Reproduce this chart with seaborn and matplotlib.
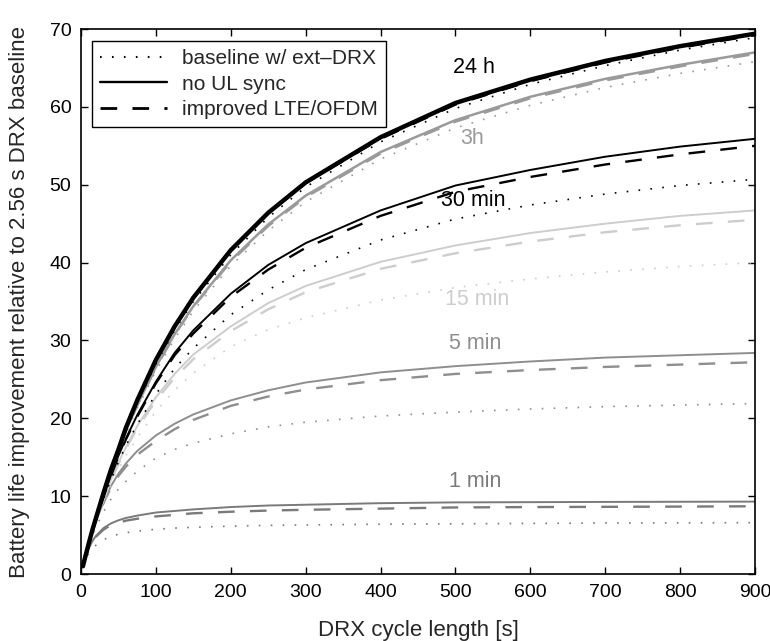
import matplotlib
matplotlib.use("Agg")
import matplotlib.pyplot as plt
import pandas as pd
import seaborn as sns
from matplotlib.lines import Line2D

sns.set_theme(style="ticks")
plt.rcParams["font.family"] = ["Liberation Sans", "DejaVu Sans"]
plt.rcParams["lines.scale_dashes"] = False

# DRX cycle length [s]
drx = [2.56, 5, 10, 15, 20, 30, 40, 50, 60, 75, 100, 125, 150, 200, 250, 300, 400, 500, 600, 700, 800, 900]

# battery life improvement
h24_solid = [1.0, 1.95, 3.8, 5.6, 7.2, 10.4, 13.4, 16.0, 18.8, 22.3, 27.5, 31.8, 35.5, 41.6, 46.4, 50.3, 56.1, 60.5, 63.5, 65.9, 67.8, 69.4]
h24_dashed = [1.0, 1.95, 3.8, 5.6, 7.2, 10.4, 13.4, 16.0, 18.7, 22.2, 27.4, 31.7, 35.4, 41.5, 46.3, 50.2, 55.9, 60.3, 63.3, 65.7, 67.6, 69.2]
h24_dotted = [1.0, 1.9, 3.8, 5.5, 7.1, 10.2, 13.1, 15.7, 18.4, 21.9, 27.0, 31.3, 35.0, 41.0, 45.8, 49.7, 55.5, 59.8, 62.9, 65.3, 67.3, 68.9]

h3_solid = [1.0, 1.9, 3.7, 5.5, 7.1, 10.3, 13.2, 15.8, 18.4, 21.7, 26.6, 30.8, 34.4, 40.3, 44.9, 48.6, 54.2, 58.3, 61.3, 63.6, 65.4, 67.0]
h3_dashed = [1.0, 1.9, 3.7, 5.5, 7.1, 10.3, 13.2, 15.8, 18.3, 21.6, 26.5, 30.7, 34.3, 40.1, 44.7, 48.4, 54.0, 58.1, 61.1, 63.4, 65.2, 66.8]
h3_dotted = [1.0, 1.9, 3.7, 5.4, 7.0, 10.1, 13.0, 15.5, 18.0, 21.3, 26.1, 30.2, 33.8, 39.6, 44.1, 47.8, 53.3, 57.3, 60.2, 62.5, 64.3, 65.8]

m30_solid = [1.0, 1.9, 3.7, 5.4, 7.0, 10.0, 12.7, 15.2, 17.4, 20.4, 24.7, 28.4, 31.3, 36.0, 39.7, 42.5, 46.7, 49.9, 51.9, 53.6, 54.9, 55.9]
m30_dashed = [1.0, 1.9, 3.7, 5.4, 7.0, 9.9, 12.6, 15.1, 17.3, 20.2, 24.5, 28.1, 30.9, 35.6, 39.1, 41.9, 46.0, 49.1, 51.0, 52.6, 53.9, 55.0]
m30_dotted = [1.0, 1.85, 3.6, 5.2, 6.8, 9.6, 12.1, 14.4, 16.5, 19.2, 23.1, 26.4, 29.0, 33.3, 36.5, 39.1, 42.9, 45.6, 47.4, 48.8, 49.9, 50.7]

m15_solid = [1.0, 1.9, 3.6, 5.3, 6.8, 9.6, 12.1, 14.3, 16.3, 19.0, 22.7, 25.7, 28.2, 31.8, 34.8, 37.0, 40.1, 42.2, 43.8, 45.0, 46.0, 46.7]
m15_dashed = [1.0, 1.9, 3.6, 5.3, 6.8, 9.5, 12.0, 14.1, 16.1, 18.7, 22.3, 25.2, 27.6, 31.2, 34.0, 36.2, 39.2, 41.2, 42.7, 43.9, 44.8, 45.5]
m15_dotted = [1.0, 1.85, 3.5, 5.0, 6.5, 9.1, 11.4, 13.4, 15.2, 17.5, 20.9, 23.6, 25.8, 29.2, 31.4, 32.9, 35.2, 36.8, 37.9, 38.8, 39.5, 40.0]

m5_solid = [1.0, 2.0, 3.8, 5.4, 6.8, 9.2, 11.3, 12.9, 14.2, 15.8, 17.8, 19.3, 20.5, 22.3, 23.6, 24.6, 25.9, 26.7, 27.3, 27.8, 28.1, 28.4]
m5_dashed = [1.0, 2.0, 3.8, 5.4, 6.8, 9.1, 11.1, 12.6, 13.8, 15.3, 17.1, 18.6, 19.8, 21.6, 22.8, 23.7, 24.9, 25.7, 26.2, 26.6, 26.9, 27.2]
m5_dotted = [1.0, 1.9, 3.5, 4.8, 6.0, 8.0, 9.6, 10.9, 11.9, 13.2, 14.9, 16.0, 16.8, 18.0, 18.9, 19.5, 20.3, 20.8, 21.2, 21.5, 21.7, 21.9]

m1_solid = [1.0, 1.9, 3.2, 4.2, 4.9, 5.9, 6.5, 6.9, 7.2, 7.5, 7.9, 8.1, 8.3, 8.6, 8.8, 8.9, 9.1, 9.2, 9.23, 9.26, 9.28, 9.3]
m1_dashed = [1.0, 1.9, 3.1, 4.1, 4.8, 5.7, 6.3, 6.6, 6.85, 7.1, 7.4, 7.6, 7.8, 8.0, 8.15, 8.25, 8.4, 8.55, 8.6, 8.63, 8.66, 8.7]
m1_dotted = [1.0, 1.7, 2.6, 3.2, 3.7, 4.4, 4.85, 5.1, 5.3, 5.5, 5.75, 5.9, 6.0, 6.15, 6.25, 6.3, 6.4, 6.45, 6.5, 6.55, 6.57, 6.6]

variants = ["baseline w/ ext\u2013DRX", "no UL sync", "improved LTE/OFDM"]
groups = ["24 h", "3h", "30 min", "15 min", "5 min", "1 min"]
series = {
    "24 h": [h24_dotted, h24_solid, h24_dashed],
    "3h": [h3_dotted, h3_solid, h3_dashed],
    "30 min": [m30_dotted, m30_solid, m30_dashed],
    "15 min": [m15_dotted, m15_solid, m15_dashed],
    "5 min": [m5_dotted, m5_solid, m5_dashed],
    "1 min": [m1_dotted, m1_solid, m1_dashed],
}

rows = []
for g in groups:
    for v, vals in zip(variants, series[g]):
        for x, y in zip(drx, vals):
            rows.append({"group": g, "variant": v, "drx": x, "gain": y})
df = pd.DataFrame(rows)

colors = {"24 h": "black", "3h": "#9a9a9a", "30 min": "black",
          "15 min": "#cdcdcd", "5 min": "#8e8e8e", "1 min": "#7a7a7a"}
styles = {variants[0]: (0, (1.2, 7.4)), variants[1]: "-", variants[2]: (0, (12, 11))}
widths = {variants[0]: 1.2, variants[1]: 1.4, variants[2]: 1.7}
label_pos = {"24 h": (525, 65.0), "3h": (522, 56.0), "30 min": (524, 48.0),
             "15 min": (529, 35.3), "5 min": (527, 29.6), "1 min": (527, 11.9)}

fig = plt.figure(figsize=(7.7, 6.41), dpi=100)
ax = fig.add_axes([0.1052, 0.1045, 0.8753, 0.8502])

for g in groups[::-1]:
    for v in variants:
        sub = df[(df.group == g) & (df.variant == v)]
        lw = widths[v]
        if g == "24 h" and v == variants[1]:
            lw = 3.2
        elif g == "3h" and v == variants[1]:
            lw = 1.8
        sns.lineplot(data=sub, x="drx", y="gain", ax=ax, color=colors[g],
                     linestyle=styles[v], linewidth=lw, dash_capstyle="butt",
                     legend=False)
    tx, ty = label_pos[g]
    ax.text(tx, ty, g, color=colors[g], fontsize=15.5, ha="center", va="center")

ax.set_xlim(0, 900)
ax.set_ylim(0, 70)
ax.set_xticks(range(0, 901, 100))
ax.set_yticks(range(0, 71, 10))
ax.tick_params(direction="in", top=True, right=True, length=5, width=1,
               labelsize=14, pad=7, colors="black")
for s in ax.spines.values():
    s.set_linewidth(1.2)
    s.set_color("black")
ax.set_xlabel("DRX cycle length [s]", fontsize=16, labelpad=14)
ax.set_ylabel("Battery life improvement relative to 2.56 s DRX baseline",
              fontsize=16, labelpad=14)

handles = [Line2D([], [], color="black", linestyle=styles[v], linewidth=widths[v] + 0.3)
           for v in variants]
leg = ax.legend(handles, variants, loc="upper left", bbox_to_anchor=(0.0163, 0.978),
                borderaxespad=0, fontsize=15, handlelength=3.2, handletextpad=0.7,
                labelspacing=0.3, borderpad=0.4, fancybox=False, framealpha=1)
leg.get_frame().set_edgecolor("black")
leg.get_frame().set_linewidth(1.0)

fig.savefig("out.png", dpi=100)
